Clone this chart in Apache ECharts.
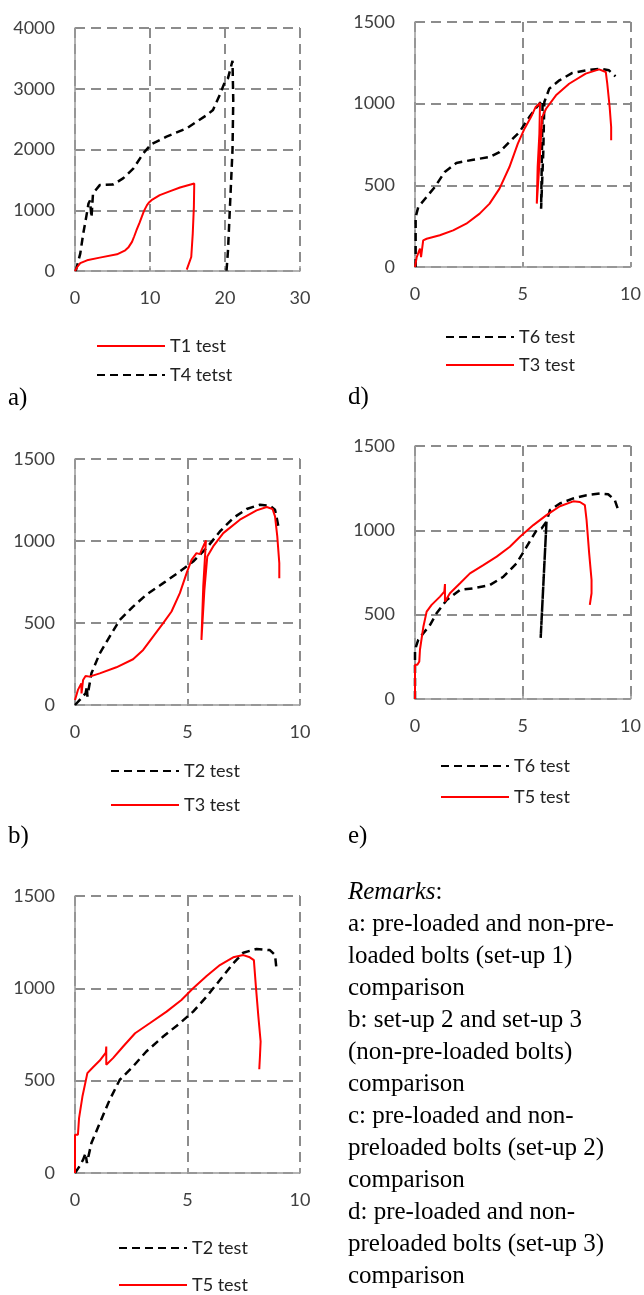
<!DOCTYPE html>
<html lang="en">
<head>
<meta charset="UTF-8">
<title>Load-displacement comparison</title>
<style>
    html, body { margin: 0; padding: 0; background: #fff; }
    #chart { width: 644px; height: 1295px; }
</style>
</head>
<body>
<div id="chart"></div>
<script src="https://cdn.jsdelivr.net/npm/echarts@6/dist/echarts.min.js"></script>
<script>
// panel a) set-up 1
var aT1 = [[0,0],[0.3,66],[0.7,130],[1.6,176],[3.3,220],[5.6,275],[6.7,341],[7.1,385],[7.6,479],[7.9,572],[8.2,671],[8.6,792],[8.9,891],[9.2,990],[9.6,1084],[9.9,1133],[10.2,1166],[11.3,1249],[12.7,1315],[14,1375],[15.9,1441],[15.85,1056],[15.7,616],[15.5,231],[14.9,22]];
var aT4 = [[0.1,0],[0.7,286],[1.1,616],[1.5,891],[1.8,1111],[2.0,1160],[2.2,880],[2.4,1276],[3.3,1414],[5.1,1425],[6.4,1524],[7.8,1689],[9.1,1936],[10.2,2090],[12.2,2211],[14.9,2349],[17.6,2569],[18.4,2651],[19.3,2899],[20,3119],[20.4,3174],[21,3460],[21.1,2816],[21,1991],[20.7,1166],[20.4,341],[20.2,0]];

// panel d) set-up 3
var dT6 = [[0.03,0],[0.03,306],[0.15,367],[0.54,429],[0.92,490],[1.38,582],[1.92,637],[2.7,657],[3.46,673],[3.92,704],[4.38,765],[4.85,827],[5.3,918],[5.77,1000],[5.92,1020],[5.89,714],[5.85,357],[5.95,700],[6.0,1010],[6.23,1092],[6.7,1143],[7.3,1188],[7.92,1204],[8.6,1214],[9,1204],[9.3,1167]];
var dT3 = [[0,0],[0.08,61],[0.23,112],[0.28,61],[0.38,163],[0.54,173],[1.15,194],[1.77,224],[2.38,265],[3,327],[3.46,388],[3.92,480],[4.38,612],[4.77,755],[5.08,847],[5.38,918],[5.6,980],[5.8,1004],[5.77,816],[5.69,612],[5.65,388],[5.8,694],[5.9,918],[6.08,969],[6.54,1051],[7.15,1122],[7.92,1184],[8.54,1210],[8.85,1194],[8.92,1122],[9.03,980],[9.1,857],[9.1,776]];

// panel b) set-up 2 vs set-up 3
var bT2 = [[0,0],[0.28,41],[0.47,71],[0.53,112],[0.55,51],[0.73,193],[1.1,315],[1.54,417],[1.99,519],[2.58,600],[3.17,672],[3.92,743],[4.66,814],[5.25,875],[5.85,957],[6.44,1058],[7.03,1140],[7.63,1195],[8.22,1221],[8.66,1215],[8.89,1191],[9.04,1089]];
var bT3 = [[0,30],[0.13,92],[0.28,132],[0.29,71],[0.36,153],[0.47,177],[0.65,173],[1.1,193],[1.84,230],[2.58,279],[3.03,336],[3.47,417],[3.92,499],[4.29,570],[4.66,682],[4.96,804],[5.18,885],[5.4,926],[5.55,920],[5.7,967],[5.82,1003],[5.7,723],[5.62,397],[5.75,700],[5.88,906],[6.14,967],[6.59,1048],[7.33,1130],[8.07,1187],[8.52,1207],[8.78,1195],[8.89,1150],[8.99,1028],[9.08,865],[9.08,773]];

// panel e) set-up 3
var eT6 = [[0,0],[0,292],[0.15,351],[0.39,390],[0.7,440],[1,508],[1.47,587],[2.09,647],[2.7,656],[3.48,676],[4.1,725],[4.71,804],[5.18,903],[5.64,1001],[5.87,1011],[6.1,1051],[5.83,361],[6.1,1051],[6.26,1120],[6.72,1159],[7.34,1189],[7.96,1208],[8.58,1218],[8.96,1214],[9.27,1179],[9.4,1130]];
var eT5 = [[0,0],[0,203],[0.11,203],[0.2,223],[0.23,292],[0.39,430],[0.54,518],[0.77,558],[1.16,607],[1.36,637],[1.39,682],[1.39,578],[1.62,627],[2.09,686],[2.55,745],[3.17,794],[3.79,844],[4.4,903],[4.87,962],[5.49,1031],[6.1,1090],[6.72,1143],[7.34,1172],[7.65,1168],[7.88,1149],[7.96,1060],[8.08,863],[8.19,706],[8.19,627],[8.11,558]];

// panel c) set-up 2
var cT2 = [[0,0],[0.2,36],[0.36,72],[0.47,108],[0.53,54],[0.73,162],[1.1,270],[1.54,396],[1.99,505],[2.58,577],[3.17,658],[3.92,739],[4.66,811],[5.25,874],[5.85,955],[6.44,1045],[7.03,1135],[7.48,1193],[8.07,1213],[8.66,1207],[8.89,1180],[8.96,1099]];
var cT5 = [[0,0],[0,207],[0.13,207],[0.18,297],[0.33,414],[0.55,541],[0.8,573],[1.1,609],[1.37,652],[1.39,685],[1.39,586],[1.69,622],[2.14,685],[2.67,757],[3.32,811],[4.07,874],[4.73,937],[5.25,1000],[5.85,1067],[6.44,1126],[7.03,1168],[7.48,1180],[7.77,1168],[7.95,1153],[8.04,1009],[8.15,847],[8.25,712],[8.22,631],[8.19,562]];

// axis ranges: [xMax, xStep, yMax, yStep]
var axisRanges = [[30,10,4000,1000],[10,5,1500,500],[10,5,1500,500],[10,5,1500,500],[10,5,1500,500]];

var remarks = [
    '{i|Remarks}:',
    'a: pre-loaded and non-pre-',
    'loaded bolts (set-up 1)',
    'comparison',
    'b: set-up 2 and set-up 3',
    '(non-pre-loaded bolts)',
    'comparison',
    'c: pre-loaded and non-',
    'preloaded bolts (set-up 2)',
    'comparison',
    'd: pre-loaded and non-',
    'preloaded bolts (set-up 3)',
    'comparison'
];

var labelFont = { fontFamily: 'Lato', fontSize: 18, color: '#404040' };
var serif = 'Liberation Serif';
var gridCol = '#8c8c8c';

var grids = [
    { left: 75,  top: 28,  width: 225, height: 243 },
    { left: 415, top: 22,  width: 217, height: 245 },
    { left: 75,  top: 459, width: 225, height: 246 },
    { left: 415, top: 446, width: 216, height: 253 },
    { left: 75,  top: 896, width: 225, height: 277 }
];

function plain(v) { return String(v); }

var xAxes = [], yAxes = [];
for (var i = 0; i < axisRanges.length; i++) {
    var r = axisRanges[i];
    xAxes.push({
        type: 'value', gridIndex: i, min: 0, max: r[0], interval: r[1],
        axisLine: { show: true, lineStyle: { color: '#9a9a9a', width: 1.5 } },
        axisTick: { show: true, inside: true, length: 5, lineStyle: { color: '#9a9a9a', width: 1.5 } },
        axisLabel: Object.assign({ margin: 18, formatter: plain }, labelFont),
        splitLine: { show: true, lineStyle: { color: gridCol, width: 2, type: [10, 6] } }
    });
    yAxes.push({
        type: 'value', gridIndex: i, min: 0, max: r[2], interval: r[3],
        axisLine: { show: true, lineStyle: { color: '#9a9a9a', width: 1.5 } },
        axisTick: { show: false },
        axisLabel: Object.assign({ margin: 20, formatter: plain }, labelFont),
        splitLine: { show: true, lineStyle: { color: gridCol, width: 2, type: [10, 6] } }
    });
}

function redLine(name, idx, data) {
    return { name: name, type: 'line', xAxisIndex: idx, yAxisIndex: idx, data: data,
        symbol: 'none', color: '#ff0000', lineStyle: { color: '#ff0000', width: 2 }, z: 3 };
}
function blackDash(name, idx, data) {
    return { name: name, type: 'line', xAxisIndex: idx, yAxisIndex: idx, data: data,
        symbol: 'none', color: '#000', lineStyle: { color: '#000', width: 2.5, type: [8, 5] }, z: 2 };
}

function legend(left, top, gap, names) {
    return {
        left: left, top: top, orient: 'vertical', itemWidth: 68, itemHeight: 14, itemGap: gap,
        selectedMode: false, padding: 0, data: names,
        itemStyle: { opacity: 0 },
        textStyle: { fontFamily: 'Lato', fontSize: 18, color: '#222', lineHeight: 20 }
    };
}

function panelTag(text, left, top) {
    return { text: text, left: left, top: top, padding: 0,
        textStyle: { fontFamily: serif, fontSize: 25, fontWeight: 'normal', color: '#000' } };
}

var chart = echarts.init(document.getElementById('chart'));
chart.setOption({
    animation: false,
    backgroundColor: '#fff',
    grid: grids,
    xAxis: xAxes,
    yAxis: yAxes,
    legend: [
        legend(96, 336, 9, ['T1 test', 'T4 tetst']),
        legend(445, 327, 8, ['T6 test', 'T3 test']),
        legend(110, 761, 14, ['T2 test', 'T3 test']),
        legend(440, 756, 11, ['T6 test', 'T5 test']),
        legend(118, 1238, 17, ['T2 test', 'T5 test'])
    ],
    title: [
        panelTag('a)', 8, 386),
        panelTag('d)', 348, 385),
        panelTag('b)', 8, 824),
        panelTag('e)', 348, 824),
        {
            text: remarks.join('\n'), left: 348, top: 876, padding: 0,
            textStyle: {
                fontFamily: serif, fontSize: 25, fontWeight: 'normal', color: '#000', lineHeight: 32,
                rich: { i: { fontFamily: serif, fontSize: 25, fontStyle: 'italic', color: '#000', lineHeight: 32 } }
            }
        }
    ],
    series: [
        blackDash('T4 tetst', 0, aT4), redLine('T1 test', 0, aT1),
        blackDash('T6 test', 1, dT6), redLine('T3 test', 1, dT3),
        blackDash('T2 test', 2, bT2), redLine('T3 test', 2, bT3),
        blackDash('T6 test', 3, eT6), redLine('T5 test', 3, eT5),
        blackDash('T2 test', 4, cT2), redLine('T5 test', 4, cT5)
    ]
});
</script>
</body>
</html>
